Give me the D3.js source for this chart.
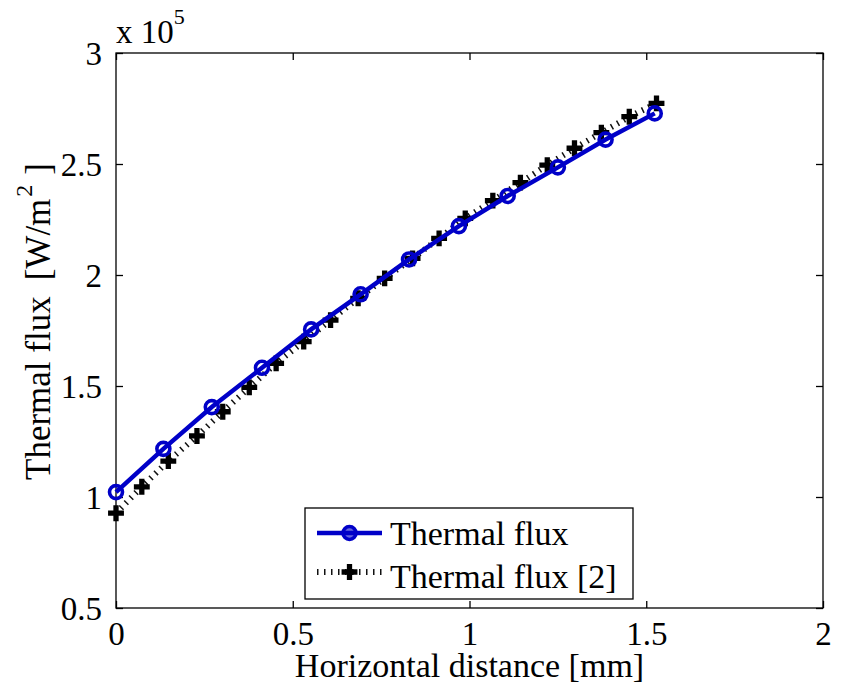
<!DOCTYPE html>
<html>
<head>
<meta charset="utf-8">
<script src="https://cdn.jsdelivr.net/npm/d3@7"></script>
<style>
  body { margin: 0; background: #fff; }
  svg { display: block; }
  text { font-family: "Liberation Serif", "Times New Roman", serif; fill: #000; }
  .axis path, .axis line { stroke: #000; stroke-width: 1.3; }
</style>
</head>
<body>
<div id="chart"></div>
<script>
// values in units of 10^5 W/m^2
var fluxX = [0, 0.134, 0.271, 0.413, 0.552, 0.692, 0.829, 0.970, 1.108, 1.250, 1.385, 1.524];
var fluxY = [1.022, 1.217, 1.405, 1.582, 1.755, 1.913, 2.070, 2.220, 2.356, 2.485, 2.610, 2.728];

var refX = [0, 0.073, 0.148, 0.229, 0.302, 0.377, 0.453, 0.531, 0.607, 0.685, 0.760,
  0.839, 0.914, 0.988, 1.066, 1.144, 1.220, 1.297, 1.373, 1.452, 1.529];
var refY = [0.927, 1.046, 1.162, 1.275, 1.384, 1.494, 1.602, 1.700, 1.797, 1.895, 1.985,
  2.075, 2.165, 2.255, 2.335, 2.416, 2.495, 2.571, 2.641, 2.713, 2.773];

var xTicks = [0, 0.5, 1, 1.5, 2];
var yTicks = [0.5, 1, 1.5, 2, 2.5, 3];
var seriesNames = ["Thermal flux", "Thermal flux [2]"];

var width = 844, height = 686;
var plotLeft = 116, plotRight = 823, plotTop = 53, plotBottom = 608;
var blue = "#0000c8";

var svg = d3.select("#chart").append("svg")
  .attr("width", width)
  .attr("height", height);

var x = d3.scaleLinear().domain([0, 2]).range([plotLeft, plotRight]);
var y = d3.scaleLinear().domain([0.5, 3]).range([plotBottom, plotTop]);
var fmt = d3.format("~g");

// axes box with inward ticks
svg.append("g").attr("class", "axis")
  .attr("transform", "translate(0," + plotBottom + ")")
  .call(d3.axisBottom(x).tickValues(xTicks).tickFormat(fmt).tickSizeInner(-7).tickSizeOuter(0).tickPadding(14))
  .call(function (g) {
    g.selectAll("text").attr("font-size", 33).attr("dy", "0.71em");
  });

svg.append("g").attr("class", "axis")
  .attr("transform", "translate(0," + plotTop + ")")
  .call(d3.axisTop(x).tickValues(xTicks).tickFormat("").tickSizeInner(-7).tickSizeOuter(0));

svg.append("g").attr("class", "axis")
  .attr("transform", "translate(" + plotLeft + ",0)")
  .call(d3.axisLeft(y).tickValues(yTicks).tickFormat(fmt).tickSizeInner(-7).tickSizeOuter(0).tickPadding(14))
  .call(function (g) {
    g.selectAll("text").attr("font-size", 33).attr("dy", "0.35em");
  });

svg.append("g").attr("class", "axis")
  .attr("transform", "translate(" + plotRight + ",0)")
  .call(d3.axisRight(y).tickValues(yTicks).tickFormat("").tickSizeInner(-7).tickSizeOuter(0));

svg.selectAll(".axis .domain").remove();
svg.append("rect")
  .attr("x", plotLeft).attr("y", plotTop)
  .attr("width", plotRight - plotLeft).attr("height", plotBottom - plotTop)
  .attr("fill", "none").attr("stroke", "#000").attr("stroke-width", 1.3);

// exponent
var expo = svg.append("text").attr("x", plotLeft).attr("y", 43).attr("font-size", 33);
expo.append("tspan").text("x 10");
expo.append("tspan").attr("font-size", 22).attr("dy", -19).text("5");

// axis labels
svg.append("text")
  .attr("x", (plotLeft + plotRight) / 2)
  .attr("y", 677)
  .attr("text-anchor", "middle")
  .attr("font-size", 34)
  .text("Horizontal distance [mm]");

// tex-style spacing is wider in the original
var yl = svg.append("text")
  .attr("transform", "translate(50,480) rotate(-90)")
  .attr("font-size", 35);
yl.append("tspan").text("Thermal flux");
yl.append("tspan").attr("dx", 16).text("[W/m");
yl.append("tspan").attr("font-size", 24).attr("dx", 2).attr("dy", -18).text("2");
yl.append("tspan").attr("dx", 10).attr("dy", 18).text("]");

// reference series: dotted line with bold plus markers
var refData = refX.map(function (d, i) { return [d, refY[i]]; });
var fluxData = fluxX.map(function (d, i) { return [d, fluxY[i]]; });

var line = d3.line()
  .x(function (d) { return x(d[0]); })
  .y(function (d) { return y(d[1]); });

svg.append("path")
  .datum(refData)
  .attr("d", line)
  .attr("fill", "none")
  .attr("stroke", "#111")
  .attr("stroke-width", 6)
  .attr("stroke-dasharray", "1.5 5.5");

var cross = d3.symbol().type(d3.symbolCross).size(140);

svg.append("g").selectAll("path")
  .data(refData)
  .enter()
  .append("path")
  .attr("d", cross)
  .attr("transform", function (d) { return "translate(" + x(d[0]) + "," + y(d[1]) + ")"; })
  .attr("fill", "#000");

// main series
svg.append("path")
  .datum(fluxData)
  .attr("d", line)
  .attr("fill", "none")
  .attr("stroke", blue)
  .attr("stroke-width", 4.5);

svg.append("g").selectAll("circle")
  .data(fluxData)
  .enter()
  .append("circle")
  .attr("cx", function (d) { return x(d[0]); })
  .attr("cy", function (d) { return y(d[1]); })
  .attr("r", 6.5)
  .attr("fill", "none")
  .attr("stroke", blue)
  .attr("stroke-width", 3.6);

// legend
var lg = svg.append("g");
lg.append("rect")
  .attr("x", 305).attr("y", 508)
  .attr("width", 328).attr("height", 91)
  .attr("fill", "#fff").attr("stroke", "#000").attr("stroke-width", 1.3);

lg.append("line")
  .attr("x1", 317).attr("x2", 382).attr("y1", 533).attr("y2", 533)
  .attr("stroke", blue).attr("stroke-width", 4.5);
lg.append("circle")
  .attr("cx", 349.5).attr("cy", 533).attr("r", 6.5)
  .attr("fill", blue).attr("fill-opacity", 0.6)
  .attr("stroke", blue).attr("stroke-width", 3.6);

lg.append("line")
  .attr("x1", 317).attr("x2", 382).attr("y1", 572).attr("y2", 572)
  .attr("stroke", "#111").attr("stroke-width", 6)
  .attr("stroke-dasharray", "1.5 5.5");
lg.append("path")
  .attr("d", cross)
  .attr("transform", "translate(349.5,572)")
  .attr("fill", "#000");

lg.selectAll("text.lab")
  .data(seriesNames)
  .enter()
  .append("text")
  .attr("class", "lab")
  .attr("x", 390)
  .attr("y", function (d, i) { return 545 + i * 43; })
  .attr("font-size", 34)
  .text(function (d) { return d; });
</script>
</body>
</html>
